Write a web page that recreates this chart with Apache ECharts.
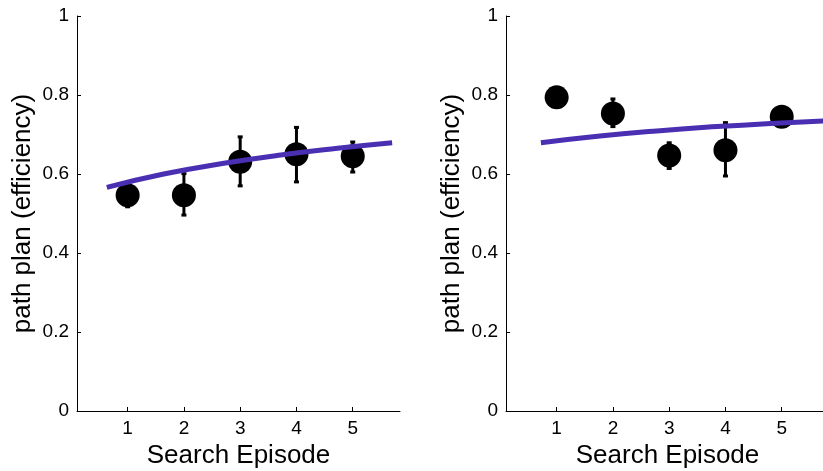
<!DOCTYPE html>
<html>
<head>
<meta charset="utf-8">
<script src="https://cdn.jsdelivr.net/npm/echarts@6/dist/echarts.min.js"></script>
<style>
html,body{margin:0;padding:0;background:#fff;}
#c{width:823px;height:471px;}
</style>
</head>
<body>
<div id="c"></div>
<script>
// Data
var episodes = [1, 2, 3, 4, 5];
var leftMean = [0.546, 0.546, 0.631, 0.650, 0.645];
var leftLow  = [0.517, 0.496, 0.570, 0.580, 0.605];
var leftHigh = [0.575, 0.601, 0.694, 0.718, 0.681];
var rightMean = [0.794, 0.753, 0.647, 0.660, 0.745];
var rightLow  = [0.780, 0.720, 0.614, 0.595, 0.735];
var rightHigh = [0.805, 0.790, 0.679, 0.730, 0.755];
var leftFitX = [0.63, 1.64, 2.71, 3.72, 4.73, 5.70];
var leftFitY = [0.566, 0.600, 0.627, 0.648, 0.665, 0.679];
var rightFitX = [0.72, 1.77, 2.78, 3.85, 4.80, 5.84];
var rightFitY = [0.679, 0.696, 0.709, 0.720, 0.728, 0.735];
var xTicks = [1, 2, 3, 4, 5];
var yTicks = [0, 0.2, 0.4, 0.6, 0.8, 1];
var xTitle = 'Search Episode';
var yTitle = 'path plan (efficiency)';

var FONT = 'Liberation Sans';
var FIT_COLOR = '#4a2fb3';

function zip(a, b) { return a.map(function (v, i) { return [v, b[i]]; }); }

function xAxis(idx) {
  return {
    type: 'value', gridIndex: idx, min: 0.1, max: 5.84,
    name: xTitle, nameLocation: 'middle', nameGap: 28,
    nameTextStyle: { fontFamily: FONT, fontSize: 26, color: '#000' },
    axisLine: { show: true, lineStyle: { color: '#000', width: 1 } },
    axisTick: { show: true, inside: true, length: 4, customValues: xTicks, lineStyle: { color: '#000' } },
    axisLabel: { customValues: xTicks, fontFamily: FONT, fontSize: 19, color: '#000', margin: 8 },
    splitLine: { show: false }
  };
}
function yAxis(idx) {
  return {
    type: 'value', gridIndex: idx, min: 0, max: 1, interval: 0.2,
    name: yTitle, nameLocation: 'middle', nameGap: 41, nameRotate: 90,
    nameTextStyle: { fontFamily: FONT, fontSize: 26, color: '#000' },
    axisLine: { show: true, lineStyle: { color: '#000', width: 1 } },
    axisTick: { show: true, inside: true, length: 4, lineStyle: { color: '#000' } },
    axisLabel: { fontFamily: FONT, fontSize: 19, color: '#000', margin: 8 },
    splitLine: { show: false }
  };
}
function errSeries(idx, low, high) {
  return {
    type: 'custom', xAxisIndex: idx, yAxisIndex: idx, z: 3,
    data: episodes.map(function (e, i) { return [e, low[i], high[i]]; }),
    renderItem: function (params, api) {
      var lo = api.coord([api.value(0), api.value(1)]);
      var hi = api.coord([api.value(0), api.value(2)]);
      var st = { stroke: '#000', lineWidth: 3 };
      return {
        type: 'group',
        children: [
          { type: 'line', shape: { x1: lo[0], y1: lo[1], x2: hi[0], y2: hi[1] }, style: st },
          { type: 'line', shape: { x1: lo[0] - 2.5, y1: lo[1], x2: lo[0] + 2.5, y2: lo[1] }, style: st },
          { type: 'line', shape: { x1: hi[0] - 2.5, y1: hi[1], x2: hi[0] + 2.5, y2: hi[1] }, style: st }
        ]
      };
    }
  };
}
function dotSeries(idx, mean) {
  return {
    type: 'scatter', xAxisIndex: idx, yAxisIndex: idx, z: 4,
    symbol: 'circle', symbolSize: 24,
    itemStyle: { color: '#000', opacity: 1 },
    data: zip(episodes, mean)
  };
}
function fitSeries(idx, fx, fy) {
  return {
    type: 'line', xAxisIndex: idx, yAxisIndex: idx, z: 5,
    smooth: true, showSymbol: false, symbol: 'none',
    lineStyle: { color: FIT_COLOR, width: 5 },
    data: zip(fx, fy)
  };
}

var chart = echarts.init(document.getElementById('c'), null, { renderer: 'canvas' });
chart.setOption({
  animation: false,
  backgroundColor: '#fff',
  grid: [
    { left: 77, top: 16, width: 323, height: 395, outerBoundsMode: 'none', containLabel: false },
    { left: 506, top: 16, width: 323, height: 395, outerBoundsMode: 'none', containLabel: false }
  ],
  xAxis: [xAxis(0), xAxis(1)],
  yAxis: [yAxis(0), yAxis(1)],
  series: [
    dotSeries(0, leftMean), errSeries(0, leftLow, leftHigh), fitSeries(0, leftFitX, leftFitY),
    dotSeries(1, rightMean), errSeries(1, rightLow, rightHigh), fitSeries(1, rightFitX, rightFitY)
  ]
});
</script>
</body>
</html>
